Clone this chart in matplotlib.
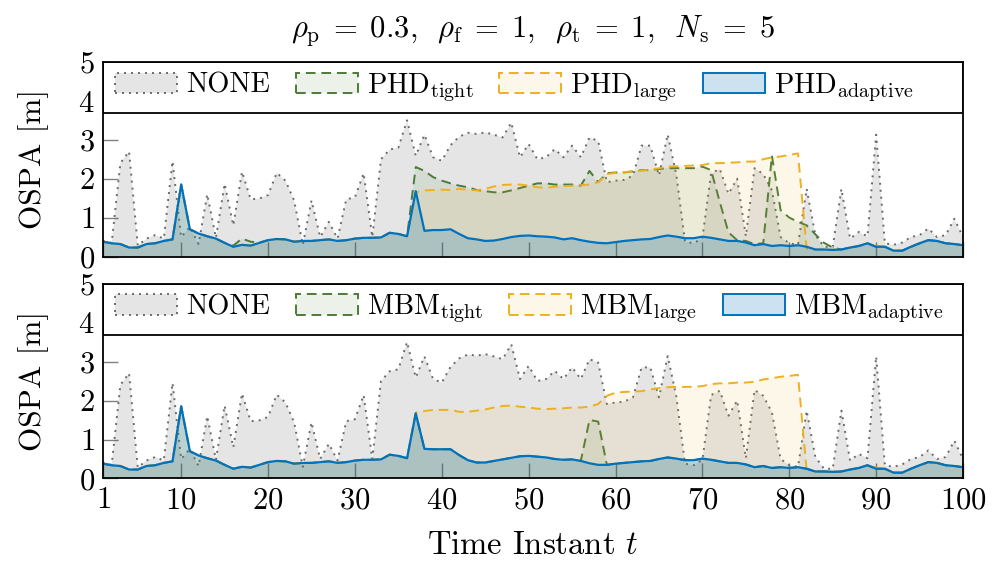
import numpy as np
import matplotlib
matplotlib.use("Agg")
import matplotlib.pyplot as plt
from matplotlib.patches import Patch, Rectangle

# 字体：Computer Modern 风格
plt.rcParams['font.family'] = 'cmr10'
plt.rcParams['mathtext.fontset'] = 'cm'
plt.rcParams['axes.formatter.use_mathtext'] = True

# ================= 数据 =================
t = np.arange(1, 101)

none_ospa = [
    0.40, 0.35, 2.40, 2.70, 0.28, 0.46, 0.55, 0.46, 2.45, 0.50,
    0.76, 0.32, 1.60, 0.48, 1.87, 0.80, 2.18, 1.47, 1.49, 1.58,
    2.15, 1.95, 1.44, 0.30, 1.44, 0.50, 0.89, 0.46, 1.47, 1.52,
    2.14, 0.50, 2.50, 2.75, 2.80, 3.50, 2.59, 3.13, 2.55, 2.46,
    2.86, 3.08, 3.18, 3.15, 3.19, 3.13, 3.06, 3.44, 2.55, 2.89,
    2.50, 2.55, 2.76, 2.55, 2.85, 2.55, 3.06, 2.97, 1.91, 1.95,
    1.97, 2.08, 2.85, 2.85, 2.08, 3.14, 2.10, 0.38, 0.34, 0.48,
    2.14, 2.25, 1.61, 2.00, 0.52, 2.27, 2.12, 1.70, 0.50, 0.34,
    0.30, 1.74, 0.55, 0.25, 0.25, 1.74, 0.46, 0.63, 0.52, 3.13,
    0.34, 0.30, 0.36, 0.50, 0.55, 0.72, 0.50, 0.55, 0.97, 0.50]

phd_tight = [
    0.38, 0.34, 0.32, 0.23, 0.23, 0.32, 0.34, 0.40, 0.44, 1.85,
    0.70, 0.59, 0.52, 0.46, 0.35, 0.28, 0.46, 0.38, 0.36, 0.42,
    0.45, 0.44, 0.38, 0.40, 0.40, 0.42, 0.44, 0.40, 0.42, 0.46,
    0.48, 0.48, 0.49, 0.61, 0.58, 0.52, 2.30, 2.20, 2.04, 1.95,
    1.88, 1.82, 1.78, 1.71, 1.68, 1.65, 1.65, 1.70, 1.76, 1.82,
    1.88, 1.88, 1.85, 1.85, 1.85, 1.82, 2.20, 1.91, 2.14, 2.16,
    2.16, 2.19, 2.22, 2.22, 2.25, 2.27, 2.27, 2.27, 2.27, 2.31,
    2.22, 1.40, 0.62, 0.42, 0.40, 0.32, 0.34, 2.59, 1.19, 1.00,
    0.89, 0.80, 0.57, 0.35, 0.23, 0.18, 0.23, 0.27, 0.34, 0.25,
    0.25, 0.15, 0.15, 0.25, 0.34, 0.42, 0.40, 0.34, 0.32, 0.29]

phd_large = [
    0.38, 0.34, 0.32, 0.23, 0.23, 0.32, 0.34, 0.40, 0.44, 1.85,
    0.70, 0.59, 0.52, 0.46, 0.35, 0.25, 0.30, 0.28, 0.35, 0.42,
    0.45, 0.44, 0.38, 0.40, 0.40, 0.42, 0.44, 0.40, 0.42, 0.46,
    0.48, 0.48, 0.49, 0.61, 0.58, 0.52, 1.65, 1.70, 1.71, 1.72,
    1.71, 1.74, 1.71, 1.70, 1.74, 1.80, 1.84, 1.85, 1.85, 1.82,
    1.78, 1.77, 1.79, 1.81, 1.82, 1.83, 1.85, 1.91, 2.12, 2.15,
    2.17, 2.19, 2.21, 2.23, 2.27, 2.31, 2.32, 2.33, 2.34, 2.35,
    2.40, 2.40, 2.41, 2.42, 2.44, 2.44, 2.50, 2.55, 2.57, 2.61,
    2.65, 0.20, 0.18, 0.18, 0.17, 0.18, 0.23, 0.27, 0.34, 0.28,
    0.25, 0.15, 0.15, 0.25, 0.34, 0.42, 0.40, 0.34, 0.32, 0.29]

phd_adaptive = [
    0.38, 0.34, 0.32, 0.23, 0.23, 0.32, 0.34, 0.40, 0.44, 1.85,
    0.70, 0.59, 0.52, 0.46, 0.35, 0.25, 0.30, 0.28, 0.35, 0.42,
    0.45, 0.44, 0.38, 0.40, 0.40, 0.42, 0.44, 0.40, 0.42, 0.46,
    0.48, 0.48, 0.49, 0.61, 0.58, 0.52, 1.68, 0.66, 0.68, 0.68,
    0.70, 0.58, 0.47, 0.44, 0.40, 0.41, 0.45, 0.50, 0.53, 0.54,
    0.52, 0.51, 0.49, 0.44, 0.47, 0.42, 0.38, 0.35, 0.34, 0.37,
    0.40, 0.42, 0.44, 0.45, 0.50, 0.54, 0.51, 0.47, 0.47, 0.51,
    0.48, 0.44, 0.40, 0.40, 0.36, 0.29, 0.32, 0.27, 0.29, 0.27,
    0.29, 0.25, 0.18, 0.18, 0.17, 0.18, 0.23, 0.27, 0.34, 0.25,
    0.25, 0.15, 0.15, 0.25, 0.34, 0.42, 0.40, 0.34, 0.32, 0.29]

mbm_tight = [
    0.38, 0.34, 0.32, 0.23, 0.23, 0.32, 0.34, 0.40, 0.44, 1.85,
    0.70, 0.59, 0.52, 0.46, 0.35, 0.25, 0.30, 0.28, 0.35, 0.42,
    0.45, 0.44, 0.38, 0.40, 0.40, 0.42, 0.44, 0.40, 0.42, 0.46,
    0.48, 0.48, 0.49, 0.61, 0.58, 0.52, 1.67, 0.76, 0.75, 0.75,
    0.75, 0.60, 0.47, 0.41, 0.41, 0.45, 0.49, 0.53, 0.57, 0.58,
    0.56, 0.54, 0.50, 0.48, 0.49, 0.45, 1.50, 1.46, 0.35, 0.38,
    0.40, 0.42, 0.44, 0.45, 0.50, 0.54, 0.51, 0.47, 0.47, 0.51,
    0.48, 0.44, 0.40, 0.40, 0.36, 0.29, 0.32, 0.27, 0.29, 0.27,
    0.29, 0.25, 0.18, 0.18, 0.17, 0.18, 0.23, 0.27, 0.34, 0.25,
    0.25, 0.15, 0.15, 0.25, 0.34, 0.42, 0.40, 0.34, 0.32, 0.29]

mbm_large = [
    0.38, 0.34, 0.32, 0.23, 0.23, 0.32, 0.34, 0.40, 0.44, 1.85,
    0.70, 0.59, 0.52, 0.46, 0.35, 0.25, 0.30, 0.28, 0.35, 0.42,
    0.45, 0.44, 0.38, 0.40, 0.40, 0.42, 0.44, 0.40, 0.42, 0.46,
    0.48, 0.48, 0.49, 0.61, 0.58, 0.52, 1.69, 1.73, 1.76, 1.76,
    1.76, 1.71, 1.71, 1.74, 1.77, 1.82, 1.86, 1.87, 1.84, 1.82,
    1.79, 1.78, 1.79, 1.80, 1.82, 1.82, 1.84, 1.91, 2.12, 2.20,
    2.22, 2.23, 2.24, 2.28, 2.32, 2.34, 2.35, 2.35, 2.35, 2.37,
    2.42, 2.44, 2.44, 2.46, 2.46, 2.48, 2.54, 2.57, 2.61, 2.63,
    2.66, 0.20, 0.18, 0.18, 0.17, 0.18, 0.23, 0.27, 0.34, 0.28,
    0.25, 0.15, 0.15, 0.25, 0.34, 0.42, 0.40, 0.34, 0.32, 0.29]

mbm_adaptive = [
    0.38, 0.34, 0.32, 0.23, 0.23, 0.32, 0.34, 0.40, 0.44, 1.85,
    0.70, 0.59, 0.52, 0.46, 0.35, 0.25, 0.30, 0.28, 0.35, 0.42,
    0.45, 0.44, 0.38, 0.40, 0.40, 0.42, 0.44, 0.40, 0.42, 0.46,
    0.48, 0.48, 0.49, 0.61, 0.58, 0.52, 1.67, 0.76, 0.75, 0.75,
    0.75, 0.60, 0.47, 0.41, 0.41, 0.45, 0.49, 0.53, 0.57, 0.58,
    0.56, 0.54, 0.50, 0.48, 0.49, 0.45, 0.39, 0.35, 0.35, 0.38,
    0.40, 0.42, 0.44, 0.45, 0.50, 0.54, 0.51, 0.47, 0.47, 0.51,
    0.48, 0.44, 0.40, 0.40, 0.36, 0.29, 0.32, 0.27, 0.29, 0.27,
    0.29, 0.25, 0.18, 0.18, 0.17, 0.18, 0.23, 0.27, 0.34, 0.25,
    0.25, 0.15, 0.15, 0.25, 0.34, 0.42, 0.40, 0.34, 0.32, 0.29]

phd_labels = ['NONE', r'PHD$_\mathrm{tight}$', r'PHD$_\mathrm{large}$', r'PHD$_\mathrm{adaptive}$']
mbm_labels = ['NONE', r'MBM$_\mathrm{tight}$', r'MBM$_\mathrm{large}$', r'MBM$_\mathrm{adaptive}$']
x_ticks = [1, 10, 20, 30, 40, 50, 60, 70, 80, 90, 100]
y_ticks = [0, 1, 2, 3, 4, 5]

# ================= 样式 =================
GRAY = '#6a6a6a'
GREEN = '#4b7b38'
ORANGE = '#edb120'
BLUE = '#0072bd'

styles = [
    # (线色, 线型, 填充色, 填充透明度)
    (GRAY, (0, (1, 2.6)), '#000000', 0.10),
    (GREEN, (0, (5, 3)), GREEN, 0.10),
    (ORANGE, (0, (5, 3)), ORANGE, 0.09),
    (BLUE, '-', BLUE, 0.20),
]

LEG_FRAC = 0.262   # 图例框占轴高的比例


def draw_panel(ax, series, labels, show_xlabels):
    handles = []
    for k, (vals, (lc, ls, fc, fa)) in enumerate(zip(series, styles)):
        z = 2 + 2 * k
        ax.fill_between(t, 0, vals, facecolor=fc, alpha=fa, linewidth=0, zorder=z)
        ax.plot(t, vals, color=lc, linestyle=ls, linewidth=1.4 if k < 3 else 1.6, zorder=z + 1)
        handles.append(Patch(facecolor=matplotlib.colors.to_rgba(fc, fa), edgecolor=lc,
                             linestyle=ls, linewidth=1.4))

    ax.set_xlim(1, 100)
    ax.set_ylim(0, 5)
    ax.set_xticks(x_ticks)
    ax.set_yticks(y_ticks)
    ax.tick_params(direction='in', length=11, width=1.0, color='#808080',
                   labelsize=22, labelbottom=show_xlabels, pad=6)
    for sp in ax.spines.values():
        sp.set_linewidth(1.3)
        sp.set_zorder(30)
    ax.set_ylabel('OSPA [m]', fontsize=22.5)
    ax.yaxis.set_label_coords(-0.063, 0.5)

    # 全宽图例框
    box = Rectangle((0, 1 - LEG_FRAC), 1, LEG_FRAC, transform=ax.transAxes,
                    facecolor='white', edgecolor='black', linewidth=1.3, zorder=20)
    ax.add_patch(box)
    leg = ax.legend(handles, labels, loc='center left',
                    bbox_to_anchor=(0.014, 1 - LEG_FRAC / 2), ncol=4,
                    borderaxespad=0, borderpad=0, frameon=False, fontsize=20.5,
                    handlelength=2.18, handleheight=0.74, handletextpad=0.32,
                    columnspacing=0.9)
    leg.set_zorder(25)


fig = plt.figure(figsize=(9.99, 5.63), dpi=100)
ax1 = fig.add_axes([0.1031, 0.5444, 0.8609, 0.3455])
ax2 = fig.add_axes([0.1031, 0.1501, 0.8609, 0.3463])

draw_panel(ax1, [none_ospa, phd_tight, phd_large, phd_adaptive], phd_labels, False)
draw_panel(ax2, [none_ospa, mbm_tight, mbm_large, mbm_adaptive], mbm_labels, True)

ax2.set_xlabel(r'Time Instant $t$', fontsize=23.5)
ax2.xaxis.set_label_coords(0.5, -0.27)

fig.text(0.533, 1 - 31 / 563,
         r'$\rho_\mathrm{p}\;=\;0.3,\;\;\rho_\mathrm{f}\;=\;1,\;\;\rho_\mathrm{t}\;=\;1,\;\;N_\mathrm{s}\;=\;5$',
         ha='center', va='center', fontsize=22)

fig.savefig('out.png', dpi=100)
